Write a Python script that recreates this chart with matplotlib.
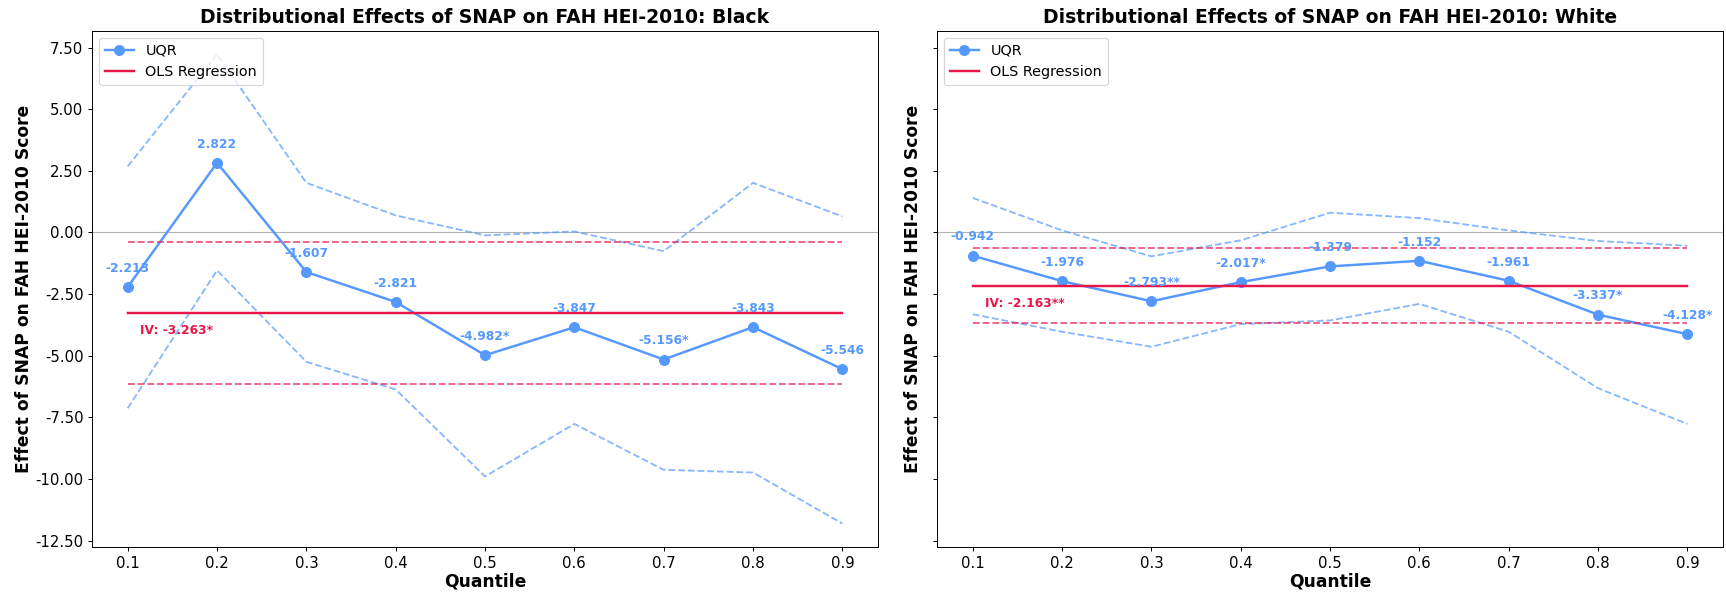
import matplotlib
matplotlib.use("Agg")
import matplotlib.pyplot as plt

quantiles = [0.1, 0.2, 0.3, 0.4, 0.5, 0.6, 0.7, 0.8, 0.9]

# Black
black_coef = [-2.213, 2.822, -1.607, -2.821, -4.982, -3.847, -5.156, -3.843, -5.546]
black_labels = ["-2.213", "2.822", "-1.607", "-2.821", "-4.982*", "-3.847", "-5.156*", "-3.843", "-5.546"]
black_upper = [2.68, 7.23, 2.01, 0.69, -0.12, 0.04, -0.76, 2.01, 0.65]
black_lower = [-7.13, -1.54, -5.25, -6.37, -9.90, -7.77, -9.63, -9.74, -11.81]
black_ols = -3.263
black_ols_ci = (-6.14, -0.39)
black_ols_label = "IV: -3.263*"

# White
white_coef = [-0.942, -1.976, -2.793, -2.017, -1.379, -1.152, -1.961, -3.337, -4.128]
white_labels = ["-0.942", "-1.976", "-2.793**", "-2.017*", "-1.379", "-1.152", "-1.961", "-3.337*", "-4.128*"]
white_upper = [1.40, 0.08, -0.97, -0.32, 0.80, 0.58, 0.08, -0.35, -0.54]
white_lower = [-3.32, -4.03, -4.64, -3.72, -3.57, -2.90, -4.03, -6.32, -7.77]
white_ols = -2.163
white_ols_ci = (-3.68, -0.65)
white_ols_label = "IV: -2.163**"

blue = "#5599ff"
red = "#e8174a"

fig, axes = plt.subplots(1, 2, figsize=(1726 / 88, 594 / 88), dpi=88, sharey=True)
fig.subplots_adjust(left=0.0533, right=0.9983, bottom=0.0791, top=0.9483, wspace=0.075)

panels = [
    ("Black", black_coef, black_labels, black_upper, black_lower, black_ols, black_ols_ci, black_ols_label),
    ("White", white_coef, white_labels, white_upper, white_lower, white_ols, white_ols_ci, white_ols_label),
]

for i, (ax, (group, coef, labels, upper, lower, ols, ols_ci, ols_label)) in enumerate(zip(axes, panels)):
    ax.axhline(0, color="gray", lw=0.9, alpha=0.6)
    ax.plot(quantiles, upper, "--", color=blue, lw=1.5, alpha=0.7)
    ax.plot(quantiles, lower, "--", color=blue, lw=1.5, alpha=0.7)
    ax.plot(quantiles, coef, "-o", color=blue, lw=2, markersize=8, label="UQR")
    ax.plot([quantiles[0], quantiles[-1]], [ols, ols], "-", color=red, lw=2, label="OLS Regression")
    for ci in ols_ci:
        ax.plot([quantiles[0], quantiles[-1]], [ci, ci], "--", color=red, lw=1.5, alpha=0.7)
    for q, c, lab in zip(quantiles, coef, labels):
        ax.annotate(lab, (q, c), xytext=(0, 10), textcoords="offset points",
                    ha="center", va="bottom", fontsize=10, fontweight="bold", color=blue)
    ax.annotate(ols_label, (quantiles[0], ols), xytext=(10, -9), textcoords="offset points",
                ha="left", va="top", fontsize=10, fontweight="bold", color=red)
    ax.set_title(f"Distributional Effects of SNAP on FAH HEI-2010: {group}", fontsize=15.3, fontweight="bold")
    ax.set_xlabel("Quantile", fontsize=14, fontweight="bold", labelpad=1.5)
    ax.set_ylabel("Effect of SNAP on FAH HEI-2010 Score", fontsize=14, fontweight="bold",
                  labelpad=2 if i == 0 else 9)
    ax.set_xticks(quantiles)
    ax.tick_params(labelsize=12.2)
    ax.legend(loc="upper left", fontsize=11.8)

axes[0].yaxis.set_major_formatter(matplotlib.ticker.FormatStrFormatter("%.2f"))

fig.savefig("out.png", dpi=88)
